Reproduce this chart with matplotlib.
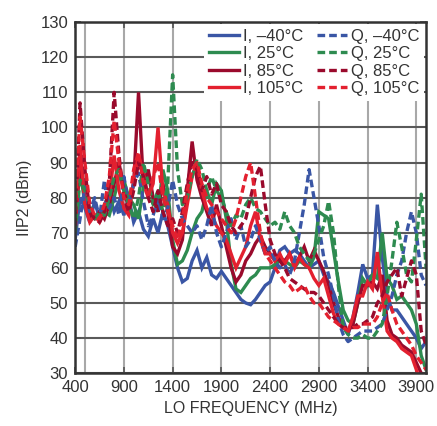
import matplotlib
matplotlib.use("Agg")
import matplotlib.pyplot as plt
from matplotlib import font_manager

avail = {f.name for f in font_manager.fontManager.ttflist}
fam = "Liberation Sans" if "Liberation Sans" in avail else "DejaVu Sans"
plt.rcParams['font.family'] = [fam, 'DejaVu Sans']

freq = list(range(400, 4001, 50))

i_m40 = [68, 80, 77, 73, 79, 74, 78, 81, 76, 79, 75, 80, 73, 76, 71, 69, 74, 70, 76, 72,
         66, 60, 56, 57, 62, 65, 60, 63, 58, 57, 59, 57, 55, 53, 51, 50, 49.5, 51, 53, 55,
         56, 60, 65, 66, 64, 65, 64, 62, 60, 61, 62, 58, 56, 53, 49, 45, 41, 46, 53, 61,
         57, 58, 78, 63, 52, 48, 48, 46, 44, 42, 40, 37, 39]
i_25 = [75, 88, 78, 74, 75, 74, 76, 75, 80, 86, 85, 80, 78, 74, 83, 87, 79, 76, 88, 82,
        68, 61, 62, 65, 70, 74, 76, 82, 78, 84, 82, 74, 61, 54, 53, 55, 57, 58, 60, 60,
        60, 61, 62, 62, 61, 60, 62, 61, 60, 63, 76, 75, 74, 65, 56, 48, 45, 44, 50, 57,
        55, 58, 57, 70, 57, 55, 51, 52, 50, 48, 44, 35, 31]
i_85 = [72, 90, 80, 75, 74, 76, 74, 78, 84, 90, 82, 77, 84, 110, 84, 88, 80, 76, 84, 76,
        66, 64, 68, 82, 96, 85, 80, 76, 72, 78, 72, 66, 60, 56, 58, 62, 64, 67, 69, 66,
        64, 62, 63, 62, 64, 61, 63, 66, 62, 65, 62, 59, 55, 50, 46, 43, 42, 44, 50, 55,
        55, 56, 54, 58, 45, 41, 40, 38, 37, 36, 33, 30, 28]
i_105 = [70, 95, 78, 73, 75, 73, 76, 80, 92, 82, 77, 75, 85, 92, 87, 80, 84, 100, 82, 78,
         70, 67, 70, 78, 86, 90, 82, 77, 75, 72, 70, 68, 64, 60, 63, 66, 72, 76, 68, 64,
         64, 62, 64, 61, 64, 60, 63, 61, 60, 57, 55, 57, 52, 47, 44, 43, 42, 46, 52, 52,
         56, 54, 64.5, 52, 42, 40, 39, 37, 36, 35, 31, 27, 25]
q_m40 = [66, 74, 83, 76, 80, 74, 85, 77, 80, 75, 86, 78, 84, 87, 79, 72, 75, 80, 74, 77,
         85, 78, 74, 72, 70, 72, 68, 72, 78, 70, 66, 70, 74, 68, 72, 66, 68, 72, 68, 64,
         66, 62, 60, 61, 58, 62, 70, 78, 88, 80, 72, 63, 58, 52, 45, 41, 39, 40, 41, 42,
         42, 42, 43, 44, 48, 52, 58, 62, 70, 76, 70, 58, 55]
q_25 = [70, 85, 82, 78, 74, 76, 75, 80, 86, 88, 82, 78, 74, 80, 90, 84, 78, 82, 76, 84,
        115, 88, 78, 80, 86, 91, 88, 82, 86, 82, 80, 76, 72, 75, 74, 78, 80, 77, 76, 74,
        72, 73, 71, 76, 72, 70, 66, 64, 62, 64, 68, 72, 79, 70, 55, 43, 41, 40, 40, 41,
        40, 40, 42, 44, 52, 62, 73, 66, 58, 56, 68, 81, 60]
q_85 = [72, 107, 88, 76, 74, 73, 76, 84, 110, 92, 80, 76, 82, 90, 86, 80, 76, 82, 76, 72,
        74, 70, 76, 84, 90, 88, 82, 86, 81, 84, 78, 76, 72, 70, 72, 74, 80, 86, 89, 78,
        68, 64, 62, 60, 57, 56, 55, 54, 53, 53, 52, 50, 48, 46, 44, 43, 43, 43, 44, 44,
        45, 46, 50, 52, 56, 58, 60, 52, 57, 62, 58, 42, 38]
q_105 = [76, 103, 90, 78, 75, 74, 78, 86, 102, 90, 80, 78, 88, 93, 84, 80, 86, 90, 80, 76,
         72, 68, 74, 82, 88, 90, 84, 80, 78, 76, 74, 72, 70, 74, 80, 86, 90, 80, 70, 64,
         62, 60, 58, 56, 55, 53, 54, 55, 52, 50, 50, 48, 46, 45, 44, 43, 42, 43, 43, 44,
         44, 44, 46, 50, 53, 48, 44, 42, 40, 38, 35, 33, 31]

labels = ["I, \u201340\u00b0C", "I, 25\u00b0C", "I, 85\u00b0C", "I, 105\u00b0C",
          "Q, \u201340\u00b0C", "Q, 25\u00b0C", "Q, 85\u00b0C", "Q, 105\u00b0C"]
xticks = [400, 900, 1400, 1900, 2400, 2900, 3400, 3900]
yticks = list(range(30, 131, 10))

c_blue = "#3a56a5"
c_green = "#2e8b50"
c_dred = "#9a0a2c"
c_red = "#e3202f"

fig = plt.figure(figsize=(4.37, 4.26), dpi=100)
ax = fig.add_axes([0.172, 0.124, 0.803, 0.824])

lw = 2.4
dash = (0, (2.3, 1.2))
series = [
    (i_m40, c_blue, '-', labels[0]),
    (i_25, c_green, '-', labels[1]),
    (i_85, c_dred, '-', labels[2]),
    (i_105, c_red, '-', labels[3]),
    (q_m40, c_blue, dash, labels[4]),
    (q_25, c_green, dash, labels[5]),
    (q_85, c_dred, dash, labels[6]),
    (q_105, c_red, dash, labels[7]),
]
handles = []
for vals, col, ls, lab in series:
    h, = ax.plot(freq, vals, color=col, linestyle=ls, linewidth=lw, label=lab,
                 solid_joinstyle='miter', zorder=3)
    handles.append(h)

ax.set_xlim(400, 4000)
ax.set_ylim(30, 130)
ax.set_xticks(xticks)
ax.set_yticks(yticks)
for x in xticks + [500]:
    ax.axvline(x, color="#a8a8a8", linewidth=1.5, zorder=1)
for y in yticks:
    ax.axhline(y, color="#5a5a5a", linewidth=1.5, zorder=1)

for s in ax.spines.values():
    s.set_color("#333333")
    s.set_linewidth(1.8)
    s.set_zorder(5)

ax.tick_params(axis='both', direction='in', length=4, width=1.2, color="#555555",
               top=True, right=True, labelsize=12, labelcolor="#333333", pad=5)

ax.set_xlabel("LO FREQUENCY (MHz)", fontsize=11.5, color="#333333", labelpad=4)
ax.set_ylabel("IIP2 (dBm)", fontsize=11.5, color="#333333", labelpad=6)

leg = ax.legend(handles, labels, ncol=2, loc='upper right',
                fontsize=12, frameon=True, framealpha=1, facecolor='white',
                edgecolor='none', handlelength=1.8, handletextpad=0.25,
                columnspacing=0.8, labelspacing=0.15, borderpad=0.3,
                borderaxespad=0.1, fancybox=False)
leg.set_zorder(4)
for t in leg.get_texts():
    t.set_color("#333333")

fig.savefig("out.png", dpi=100)
